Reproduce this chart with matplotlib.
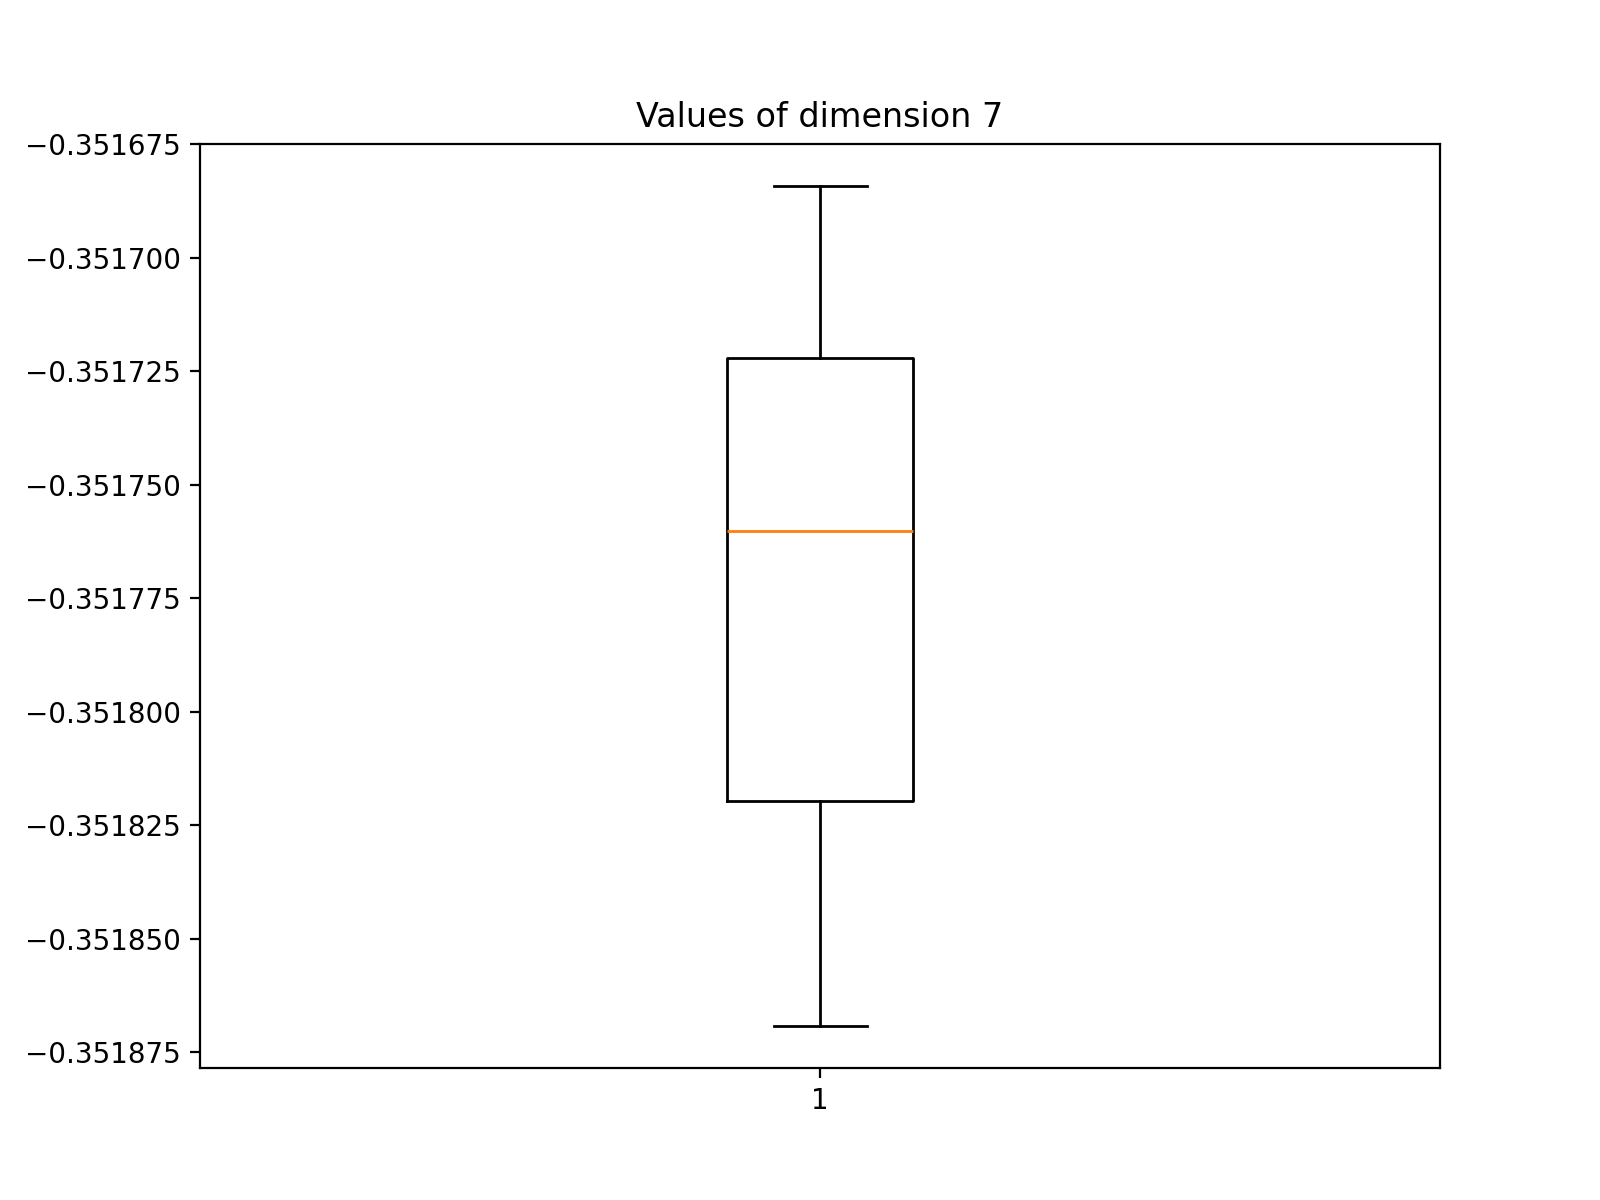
import matplotlib
matplotlib.use("Agg")
import matplotlib.pyplot as plt

# box statistics
whislo = -0.3518692
q1 = -0.3518197
med = -0.3517601
q3 = -0.3517220
whishi = -0.3516842

stats = [{"label": "1", "whislo": whislo, "q1": q1, "med": med,
          "q3": q3, "whishi": whishi, "fliers": []}]

fig, ax = plt.subplots(figsize=(8, 6), dpi=200)
ax.bxp(stats)
ax.set_title("Values of dimension 7")
fig.savefig("out.png")
